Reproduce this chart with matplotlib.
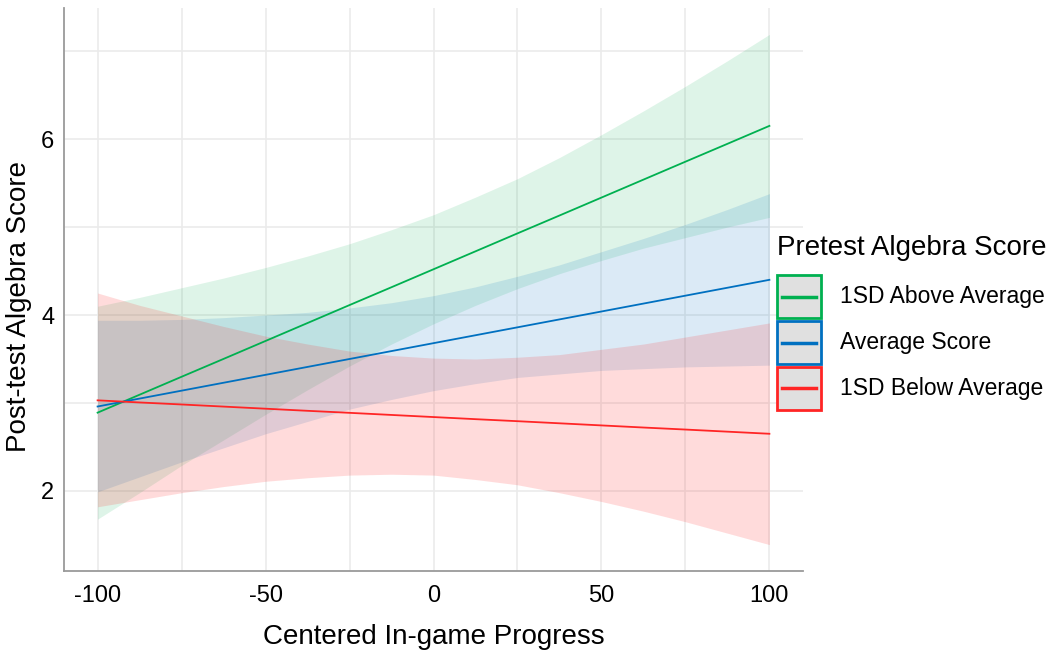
import matplotlib.pyplot as plt
from matplotlib.patches import Rectangle
from matplotlib.lines import Line2D

plt.rcParams['font.family'] = ['Liberation Sans', 'DejaVu Sans']
plt.rcParams['axes.unicode_minus'] = False

# centered in-game progress values where the curves were read
progress = [-100, -87.5, -75, -62.5, -50, -37.5, -25, -12.5, 0,
            12.5, 25, 37.5, 50, 62.5, 75, 87.5, 100]

# 1SD above average pretest
above_fit = [2.890, 3.094, 3.298, 3.501, 3.705, 3.909, 4.113, 4.316, 4.520,
             4.724, 4.928, 5.131, 5.335, 5.539, 5.743, 5.946, 6.150]
above_lo = [1.68, 1.98, 2.29, 2.58, 2.87, 3.15, 3.42, 3.67, 3.90,
            4.11, 4.30, 4.47, 4.62, 4.76, 4.88, 5.00, 5.11]
above_hi = [4.10, 4.20, 4.31, 4.42, 4.54, 4.67, 4.81, 4.97, 5.14,
            5.34, 5.55, 5.79, 6.05, 6.32, 6.60, 6.89, 7.19]

# average pretest
avg_fit = [2.960, 3.050, 3.140, 3.230, 3.320, 3.410, 3.500, 3.590, 3.680,
           3.770, 3.860, 3.950, 4.040, 4.130, 4.220, 4.310, 4.400]
avg_lo = [1.99, 2.16, 2.33, 2.49, 2.65, 2.79, 2.93, 3.04, 3.14,
          3.22, 3.29, 3.33, 3.37, 3.39, 3.41, 3.42, 3.43]
avg_hi = [3.94, 3.94, 3.95, 3.97, 4.00, 4.03, 4.08, 4.14, 4.22,
          4.32, 4.44, 4.57, 4.72, 4.87, 5.03, 5.20, 5.38]

# 1SD below average pretest
below_fit = [3.030, 3.006, 2.983, 2.959, 2.935, 2.911, 2.888, 2.864, 2.840,
             2.816, 2.793, 2.769, 2.745, 2.721, 2.698, 2.674, 2.650]
below_lo = [1.82, 1.90, 1.98, 2.05, 2.11, 2.15, 2.18, 2.19, 2.18,
            2.13, 2.07, 1.98, 1.88, 1.77, 1.65, 1.52, 1.39]
below_hi = [4.25, 4.11, 3.99, 3.87, 3.76, 3.67, 3.59, 3.54, 3.51,
            3.50, 3.52, 3.55, 3.61, 3.67, 3.75, 3.83, 3.91]

labels = ['1SD Above Average', 'Average Score', '1SD Below Average']
colors = ['#00b050', '#0070c0', '#ff2525']
band_alpha = [0.13, 0.14, 0.16]

fits = [above_fit, avg_fit, below_fit]
los = [above_lo, avg_lo, below_lo]
his = [above_hi, avg_hi, below_hi]

W, H = 1059, 652
fig = plt.figure(figsize=(W / 100, H / 100), dpi=100)
ax = fig.add_axes([64 / W, 1 - 571 / H, (803 - 64) / W, (571 - 8) / H])

for lo, hi, c, a in zip(los, his, colors, band_alpha):
    ax.fill_between(progress, lo, hi, color=c, alpha=a, lw=0, zorder=2)
for fit, c in zip(fits, colors):
    ax.plot(progress, fit, color=c, lw=1.3, zorder=3)

ax.set_xlim(-110, 110)
ax.set_ylim(1.09, 7.49)
ax.set_xticks([-100, -50, 0, 50, 100])
ax.set_xticks([-75, -25, 25, 75], minor=True)
ax.set_yticks([2, 4, 6])
ax.set_yticks([3, 5, 7], minor=True)
ax.grid(True, which='both', color='#ebebeb', lw=1.2, zorder=0)
ax.set_axisbelow(True)
ax.tick_params(which='both', length=0, labelsize=17, colors='black')
ax.tick_params(axis='x', pad=10)
ax.tick_params(axis='y', pad=7)
for s in ['top', 'right']:
    ax.spines[s].set_visible(False)
for s in ['left', 'bottom']:
    ax.spines[s].set_color('#9a9a9a')
    ax.spines[s].set_linewidth(1.3)

ax.set_xlabel('Centered In-game Progress', fontsize=20, labelpad=12)
ax.set_ylabel('Post-test Algebra Score', fontsize=20)
ax.yaxis.set_label_coords(-0.043, 0.469)

# legend drawn by hand in pixel coordinates
def px(x, y):
    return x / W, 1 - y / H

fig.text(*px(777, 248), 'Pretest Algebra Score', fontsize=20, va='center', ha='left')
box_tops = [275, 321, 367]
for top, lab, c in zip(box_tops, labels, colors):
    x0, y0 = px(777, top + 43)
    fig.add_artist(Rectangle((x0, y0), 44 / W, 43 / H, transform=fig.transFigure,
                             facecolor='#e0e0e0', edgecolor=c, lw=2))
    xa, ya = px(782, top + 21.5)
    xb, _ = px(816, top + 21.5)
    fig.add_artist(Line2D([xa, xb], [ya, ya], transform=fig.transFigure, color=c, lw=2.5))
    fig.text(*px(840, top + 22), lab, fontsize=16.5, va='center', ha='left')

plt.savefig('out.png', dpi=100)
